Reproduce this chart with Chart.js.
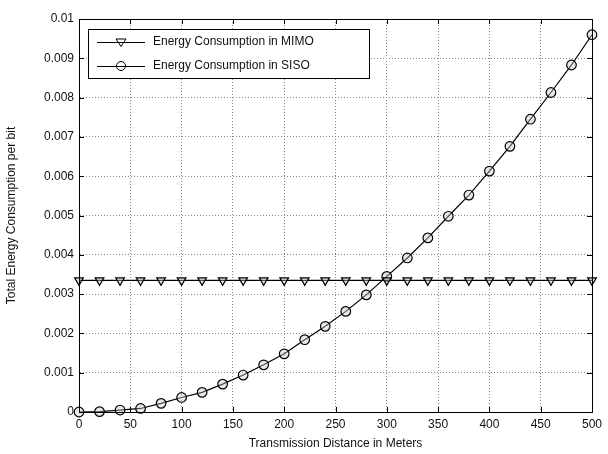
<!DOCTYPE html>
<html>
<head>
<meta charset="utf-8">
<script src="https://cdn.jsdelivr.net/npm/chart.js@4/dist/chart.umd.min.js"></script>
<style>
html,body{margin:0;padding:0;background:#fff;}
#wrap{width:608px;height:454px;}
</style>
</head>
<body>
<div id="wrap"><canvas id="c" width="608" height="454"></canvas></div>
<script>
const distances = [0,20,40,60,80,100,120,140,160,180,200,220,240,260,280,300,320,340,360,380,400,420,440,460,480,500];
const mimoEnergy = [0.00335,0.00335,0.00335,0.00335,0.00335,0.00335,0.00335,0.00335,0.00335,0.00335,0.00335,0.00335,0.00335,0.00335,0.00335,0.00335,0.00335,0.00335,0.00335,0.00335,0.00335,0.00335,0.00335,0.00335,0.00335,0.00335];
const sisoEnergy = [0,0.00001,0.00005,0.00009,0.00022,0.00037,0.0005,0.00071,0.00094,0.0012,0.00148,0.00184,0.00218,0.00256,0.00298,0.00345,0.00392,0.00443,0.00498,0.00552,0.00613,0.00676,0.00745,0.00813,0.00883,0.0096];
const seriesNames = ['Energy Consumption in MIMO','Energy Consumption in SISO'];
const xTickLabels = ['0','50','100','150','200','250','300','350','400','450','500'];
const yTickLabels = ['0','0.001','0.002','0.003','0.004','0.005','0.006','0.007','0.008','0.009','0.01'];
const xTitle = 'Transmission Distance in Meters';
const yTitle = 'Total Energy Consumption per bit';

const FONT = '"Liberation Sans", Arial, sans-serif';

const boxPlugin = {
  id: 'boxPlugin',
  afterDatasetsDraw(chart) {
    const {ctx, chartArea: a, scales} = chart;
    ctx.save();
    ctx.strokeStyle = '#000';
    ctx.lineWidth = 1;
    ctx.setLineDash([]);
    ctx.strokeRect(a.left + 0.5, a.top + 0.5, a.right - a.left, a.bottom - a.top);
    const L = 5;
    ctx.beginPath();
    scales.x.ticks.forEach(t => {
      const px = Math.round(scales.x.getPixelForValue(t.value)) + 0.5;
      ctx.moveTo(px, a.bottom); ctx.lineTo(px, a.bottom - L);
      ctx.moveTo(px, a.top); ctx.lineTo(px, a.top + L);
    });
    scales.y.ticks.forEach(t => {
      const py = Math.round(scales.y.getPixelForValue(t.value)) + 0.5;
      ctx.moveTo(a.left, py); ctx.lineTo(a.left + L, py);
      ctx.moveTo(a.right, py); ctx.lineTo(a.right - L, py);
    });
    ctx.stroke();
    ctx.restore();
  },
  afterDraw(chart) {
    const {ctx, chartArea: a} = chart;
    const bx = a.left + 9, by = a.top + 10, bw = 281, bh = 49;
    ctx.save();
    ctx.fillStyle = '#fff';
    ctx.fillRect(bx, by, bw, bh);
    ctx.strokeStyle = '#000';
    ctx.lineWidth = 1;
    ctx.strokeRect(bx + 0.5, by + 0.5, bw, bh);
    ctx.font = '12px ' + FONT;
    ctx.textBaseline = 'middle';
    ctx.fillStyle = '#111';
    chart.data.datasets.forEach((ds, i) => {
      const y = by + 13 + i * 24;
      const x0 = bx + 9, x1 = bx + 57;
      ctx.beginPath();
      ctx.moveTo(x0, y + 0.5); ctx.lineTo(x1, y + 0.5);
      ctx.stroke();
      const cx = (x0 + x1) / 2;
      ctx.beginPath();
      if (ds.pointStyle === 'triangle') {
        const r = 5;
        ctx.moveTo(cx - r, y - r * 0.6);
        ctx.lineTo(cx + r, y - r * 0.6);
        ctx.lineTo(cx, y + r * 0.9);
        ctx.closePath();
      } else {
        ctx.arc(cx, y, 4.5, 0, Math.PI * 2);
      }
      ctx.stroke();
      ctx.fillText(ds.label, bx + 65, y);
    });
    ctx.restore();
  }
};

new Chart(document.getElementById('c'), {
  type: 'line',
  data: {
    datasets: [
      {
        label: seriesNames[0],
        data: distances.map((d, i) => ({x: d, y: mimoEnergy[i]})),
        borderColor: '#000',
        borderWidth: 1.2,
        pointStyle: 'triangle',
        rotation: 180,
        pointRadius: 5,
        pointBorderWidth: 1.2,
        pointBorderColor: '#000',
        pointBackgroundColor: 'rgba(200,200,200,0.4)',
        tension: 0,
        clip: false
      },
      {
        label: seriesNames[1],
        data: distances.map((d, i) => ({x: d, y: sisoEnergy[i]})),
        borderColor: '#000',
        borderWidth: 1.2,
        pointStyle: 'circle',
        pointRadius: 4.8,
        pointBorderWidth: 1.2,
        pointBorderColor: '#000',
        pointBackgroundColor: 'rgba(200,200,200,0.4)',
        tension: 0,
        clip: false
      }
    ]
  },
  options: {
    responsive: false,
    animation: false,
    devicePixelRatio: 1,
    layout: {padding: {top: 19, right: 16, bottom: 0, left: 0}},
    plugins: {legend: {display: false}, tooltip: {enabled: false}},
    scales: {
      x: {
        type: 'linear',
        min: 0, max: 500,
        afterFit: s => { s.height = 42; },
        ticks: {
          stepSize: 50,
          padding: 5,
          color: '#111',
          font: {family: FONT, size: 12},
          callback: (v, i) => xTickLabels[i]
        },
        grid: {color: '#888', lineWidth: 1, drawTicks: false},
        border: {display: true, color: '#000', dash: [1, 2]},
        title: {
          display: true, text: xTitle, color: '#111',
          font: {family: FONT, size: 12},
          padding: {top: 2, bottom: 3}
        }
      },
      y: {
        min: 0, max: 0.01,
        afterFit: s => { s.width = 79; },
        ticks: {
          stepSize: 0.001,
          padding: 5,
          color: '#111',
          font: {family: FONT, size: 12},
          callback: (v, i) => yTickLabels[i]
        },
        grid: {color: '#888', lineWidth: 1, drawTicks: false},
        border: {display: true, color: '#000', dash: [1, 2]},
        title: {
          display: true, text: yTitle, color: '#111',
          font: {family: FONT, size: 12},
          padding: {top: 4, bottom: 0}
        }
      }
    }
  },
  plugins: [boxPlugin]
});
</script>
</body>
</html>
